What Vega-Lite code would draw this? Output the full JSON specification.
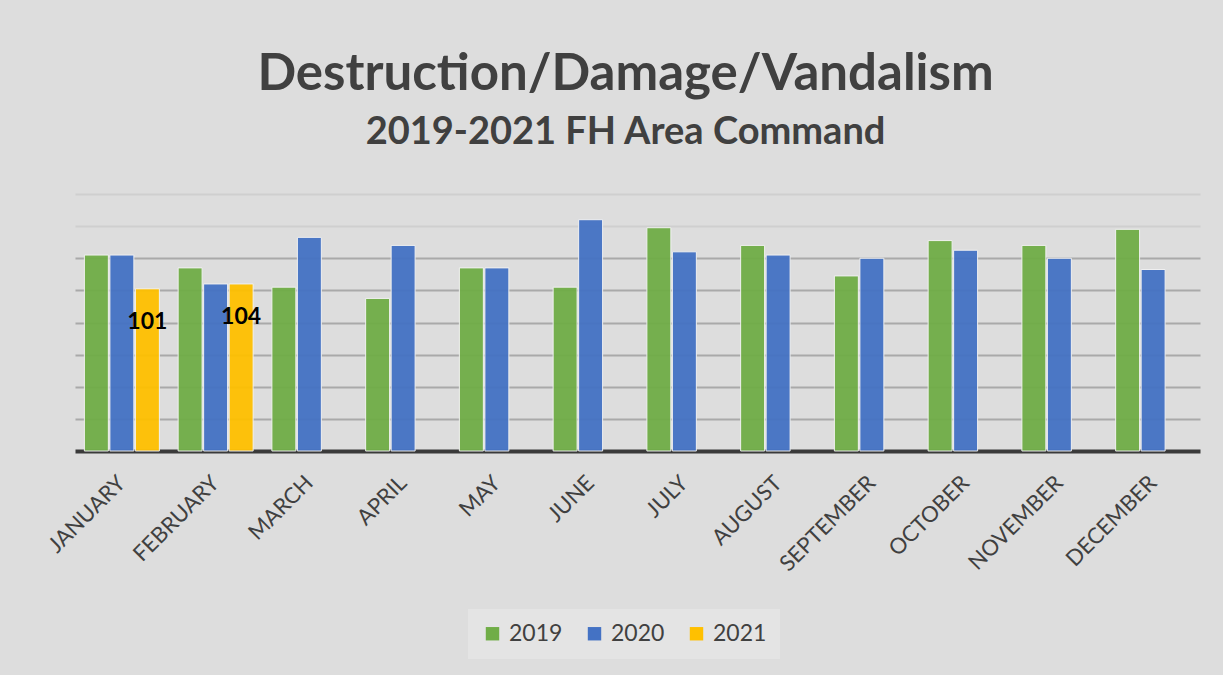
{
  "$schema": "https://vega.github.io/schema/vega-lite/v6.json",
  "autosize": "none",
  "width": 1125,
  "height": 257,
  "padding": {"left": 75, "top": 194, "right": 23, "bottom": 224},
  "background": "#dddddd",
  "title": {
    "text": "Destruction/Damage/Vandalism",
    "subtitle": "2019-2021 FH Area Command",
    "anchor": "middle",
    "dx": -12,
    "font": "Lato",
    "fontSize": 51,
    "fontWeight": "bold",
    "color": "#404040",
    "subtitleFont": "Lato",
    "subtitleFontSize": 38,
    "subtitleFontWeight": "bold",
    "subtitleColor": "#404040",
    "subtitlePadding": 13,
    "offset": 41
  },
  "config": {
    "view": {"stroke": null},
    "font": "Lato"
  },
  "data": {
    "values": [
      {"month": "JANUARY", "year": "2019", "value": 122},
      {"month": "JANUARY", "year": "2020", "value": 122},
      {"month": "JANUARY", "year": "2021", "value": 101},
      {"month": "FEBRUARY", "year": "2019", "value": 114},
      {"month": "FEBRUARY", "year": "2020", "value": 104},
      {"month": "FEBRUARY", "year": "2021", "value": 104},
      {"month": "MARCH", "year": "2019", "value": 102},
      {"month": "MARCH", "year": "2020", "value": 133},
      {"month": "APRIL", "year": "2019", "value": 95},
      {"month": "APRIL", "year": "2020", "value": 128},
      {"month": "MAY", "year": "2019", "value": 114},
      {"month": "MAY", "year": "2020", "value": 114},
      {"month": "JUNE", "year": "2019", "value": 102},
      {"month": "JUNE", "year": "2020", "value": 144},
      {"month": "JULY", "year": "2019", "value": 139},
      {"month": "JULY", "year": "2020", "value": 124},
      {"month": "AUGUST", "year": "2019", "value": 128},
      {"month": "AUGUST", "year": "2020", "value": 122},
      {"month": "SEPTEMBER", "year": "2019", "value": 109},
      {"month": "SEPTEMBER", "year": "2020", "value": 120},
      {"month": "OCTOBER", "year": "2019", "value": 131},
      {"month": "OCTOBER", "year": "2020", "value": 125},
      {"month": "NOVEMBER", "year": "2019", "value": 128},
      {"month": "NOVEMBER", "year": "2020", "value": 120},
      {"month": "DECEMBER", "year": "2019", "value": 138},
      {"month": "DECEMBER", "year": "2020", "value": 113}
    ]
  },
  "encoding": {
    "x": {
      "field": "month",
      "type": "nominal",
      "sort": null,
      "scale": {"paddingInner": 0.2, "paddingOuter": 0.1},
      "axis": {
        "title": null,
        "labelAngle": -45,
        "labelAlign": "right",
        "labelBaseline": "middle",
        "labelFont": "Lato",
        "labelFontSize": 22,
        "labelColor": "#404040",
        "labelPadding": 28,
        "labelOverlap": false,
        "ticks": false,
        "domainColor": "#3a3a3a",
        "domainWidth": 4,
        "grid": false
      }
    },
    "xOffset": {
      "field": "year",
      "type": "nominal",
      "scale": {"domain": ["2019", "2020", "2021"], "paddingInner": 0.06}
    },
    "y": {
      "field": "value",
      "type": "quantitative",
      "scale": {"domain": [0, 160], "nice": false},
      "axis": {
        "title": null,
        "labels": false,
        "ticks": false,
        "domain": false,
        "values": [20, 40, 60, 80, 100, 120, 140, 160],
        "grid": true,
        "gridWidth": 2,
        "gridColor": {"condition": {"test": "datum.value >= 140", "value": "#cfcfcf"}, "value": "#a9a9a9"}
      }
    }
  },
  "layer": [
    {
      "mark": {"type": "bar", "stroke": "#f2f2f2", "strokeWidth": 1, "opacity": 0.95},
      "encoding": {
        "color": {
          "field": "year",
          "type": "nominal",
          "scale": {"domain": ["2019", "2020", "2021"], "range": ["#70AD47", "#4472C4", "#FFC000"]},
          "legend": {
            "title": null,
            "orient": "none",
            "legendX": 393,
            "legendY": 415,
            "direction": "horizontal",
            "symbolType": "square",
            "symbolSize": 180,
            "symbolStrokeWidth": 0,
            "symbolOpacity": 1,
            "labelFont": "Lato",
            "labelFontSize": 23,
            "labelColor": "#404040",
            "labelOffset": 5,
            "columnPadding": 20,
            "fillColor": "#e4e4e4",
            "padding": 13
          }
        }
      }
    },
    {
      "transform": [{"filter": "datum.year == '2021'"}],
      "mark": {"type": "text", "dy": 33, "fontWeight": "bold", "fontSize": 23, "font": "Lato", "color": "#000000"},
      "encoding": {"text": {"field": "value", "type": "quantitative"}}
    }
  ]
}
